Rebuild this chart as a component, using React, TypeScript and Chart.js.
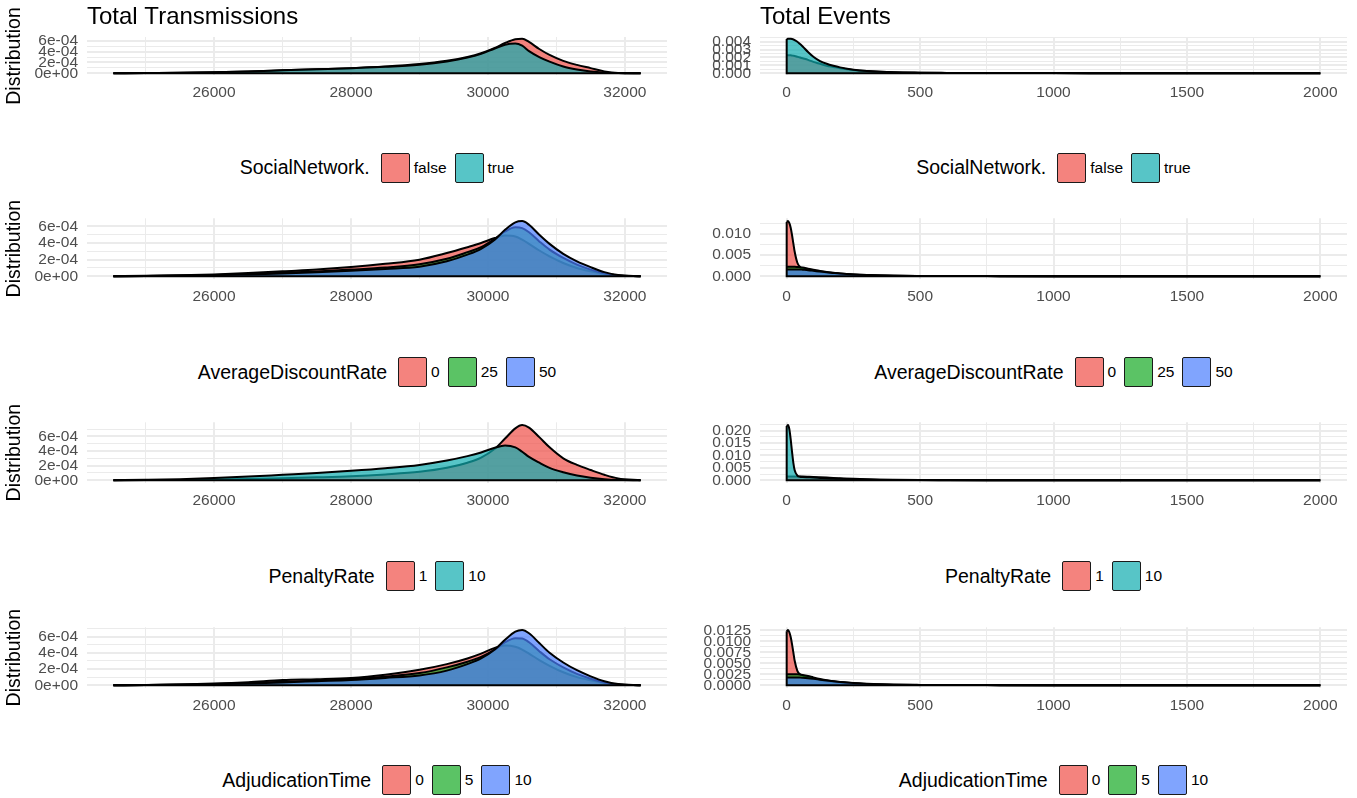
import React, { useEffect, useRef } from 'react';
import { Chart, registerables } from 'chart.js';

Chart.register(...registerables);

const FONT = '"Liberation Sans", Arial, Helvetica, sans-serif';

// ---------- x positions of the density curves ----------
const TX_X = [24530, 25000, 25500, 26000, 26500, 27000, 27500, 28000, 28500, 29000, 29400, 29700, 29900, 30100, 30250, 30400, 30500, 30600, 30750, 30900, 31100, 31300, 31500, 31700, 31900, 32230];
const EV_X = [0, 5, 10, 15, 20, 25, 30, 40, 50, 60, 80, 100, 125, 150, 175, 200, 250, 300, 350, 400, 500, 600, 800, 1000, 1250, 1500, 1750, 2000];

const TX_UNIT = 1e-4; // Total Transmissions densities are given in units of 1e-4
const EV_UNIT = 1e-3; // Total Events densities are given in units of 1e-3

// ---------- Total Transmissions densities (x 1e-4) ----------
const TX_SOCIAL_FALSE = [0, 0.05, 0.1, 0.2, 0.35, 0.55, 0.75, 0.95, 1.25, 1.7, 2.3, 3.0, 3.7, 4.7, 5.6, 6.3, 6.4, 5.8, 4.5, 3.4, 2.3, 1.55, 0.95, 0.35, 0.05, 0];
const TX_SOCIAL_TRUE = [0, 0.05, 0.1, 0.2, 0.35, 0.55, 0.75, 0.95, 1.2, 1.6, 2.2, 2.9, 3.6, 4.6, 5.3, 5.5, 5.1, 4.1, 3.0, 2.15, 1.25, 0.7, 0.33, 0.12, 0.03, 0];

const TX_DISC_0 = [0, 0.05, 0.12, 0.22, 0.38, 0.6, 0.8, 1.1, 1.5, 2.0, 2.8, 3.5, 4.0, 4.6, 4.9, 4.8, 4.4, 3.9, 3.1, 2.4, 1.6, 1.0, 0.6, 0.28, 0.08, 0];
const TX_DISC_25 = [0, 0.03, 0.08, 0.15, 0.28, 0.42, 0.58, 0.8, 1.05, 1.45, 2.1, 2.9, 3.5, 4.5, 5.4, 5.9, 5.8, 5.3, 4.2, 3.2, 2.2, 1.4, 0.8, 0.35, 0.1, 0];
const TX_DISC_50 = [0, 0.02, 0.06, 0.12, 0.22, 0.33, 0.48, 0.65, 0.88, 1.15, 1.8, 2.6, 3.3, 4.4, 5.6, 6.5, 6.65, 6.2, 5.0, 3.9, 2.7, 1.8, 1.1, 0.5, 0.15, 0];

const TX_PEN_1 = [0, 0.02, 0.05, 0.1, 0.18, 0.28, 0.4, 0.55, 0.8, 1.15, 1.7, 2.4, 3.1, 4.3, 5.7, 7.1, 7.55, 7.2, 5.9, 4.5, 3.0, 2.1, 1.4, 0.75, 0.25, 0];
const TX_PEN_10 = [0, 0.06, 0.15, 0.3, 0.5, 0.75, 1.0, 1.3, 1.65, 2.1, 2.7, 3.3, 3.8, 4.45, 4.75, 4.5, 3.9, 3.2, 2.4, 1.7, 1.1, 0.65, 0.35, 0.15, 0.05, 0];

const TX_ADJ_0 = [0, 0.04, 0.1, 0.2, 0.38, 0.65, 0.75, 0.9, 1.3, 1.9, 2.6, 3.3, 3.9, 4.6, 4.9, 4.75, 4.4, 3.9, 3.1, 2.4, 1.6, 1.0, 0.6, 0.28, 0.08, 0];
const TX_ADJ_5 = [0, 0.03, 0.08, 0.15, 0.28, 0.42, 0.55, 0.75, 1.05, 1.5, 2.2, 2.9, 3.5, 4.4, 5.3, 5.8, 5.75, 5.3, 4.2, 3.2, 2.2, 1.4, 0.8, 0.35, 0.1, 0];
const TX_ADJ_10 = [0, 0.02, 0.06, 0.12, 0.22, 0.35, 0.5, 0.65, 0.9, 1.2, 1.8, 2.6, 3.3, 4.4, 5.6, 6.6, 6.8, 6.4, 5.2, 4.0, 2.8, 1.85, 1.1, 0.5, 0.15, 0];

// ---------- Total Events densities (x 1e-3) ----------
const EV_SOCIAL_FALSE = [2.3, 2.3, 2.3, 2.28, 2.25, 2.22, 2.2, 2.1, 2.0, 1.9, 1.7, 1.45, 1.2, 0.95, 0.8, 0.65, 0.42, 0.28, 0.19, 0.13, 0.08, 0.05, 0.03, 0.02, 0.015, 0.01, 0.006, 0.004];
const EV_SOCIAL_TRUE = [4.35, 4.37, 4.38, 4.37, 4.35, 4.3, 4.2, 4.0, 3.7, 3.4, 2.7, 2.1, 1.55, 1.2, 0.95, 0.75, 0.45, 0.28, 0.18, 0.12, 0.07, 0.05, 0.03, 0.02, 0.015, 0.01, 0.006, 0.004];

const EV_DISC_0 = [12.9, 13.1, 12.6, 11.5, 9.8, 7.8, 5.8, 3.2, 2.2, 1.9, 1.6, 1.3, 1.05, 0.85, 0.7, 0.55, 0.35, 0.22, 0.15, 0.1, 0.06, 0.04, 0.025, 0.015, 0.01, 0.007, 0.005, 0.003];
const EV_DISC_25 = [2.25, 2.25, 2.25, 2.25, 2.25, 2.25, 2.25, 2.2, 2.15, 2.05, 1.8, 1.55, 1.25, 1.0, 0.82, 0.65, 0.42, 0.27, 0.17, 0.11, 0.06, 0.04, 0.025, 0.015, 0.01, 0.007, 0.005, 0.003];
const EV_DISC_50 = [1.6, 1.6, 1.6, 1.6, 1.6, 1.6, 1.6, 1.6, 1.6, 1.55, 1.45, 1.3, 1.1, 0.92, 0.77, 0.63, 0.42, 0.28, 0.18, 0.12, 0.07, 0.045, 0.028, 0.017, 0.011, 0.008, 0.005, 0.003];

const EV_PEN_1 = [1.5, 1.5, 1.5, 1.5, 1.5, 1.5, 1.5, 1.5, 1.5, 1.48, 1.42, 1.35, 1.22, 1.08, 0.93, 0.8, 0.55, 0.36, 0.23, 0.15, 0.08, 0.05, 0.03, 0.018, 0.012, 0.008, 0.005, 0.003];
const EV_PEN_10 = [21.8, 22.2, 20.5, 16.5, 11.5, 7.0, 4.0, 1.9, 1.4, 1.3, 1.2, 1.1, 0.95, 0.8, 0.68, 0.56, 0.38, 0.25, 0.16, 0.1, 0.06, 0.04, 0.025, 0.015, 0.01, 0.007, 0.005, 0.003];

const EV_ADJ_0 = [12.3, 12.6, 12.1, 11.0, 9.4, 7.5, 5.6, 3.3, 2.5, 2.2, 1.8, 1.45, 1.15, 0.92, 0.75, 0.6, 0.38, 0.24, 0.16, 0.1, 0.06, 0.04, 0.025, 0.015, 0.01, 0.007, 0.005, 0.003];
const EV_ADJ_5 = [2.5, 2.5, 2.5, 2.5, 2.5, 2.5, 2.5, 2.5, 2.45, 2.35, 2.1, 1.8, 1.45, 1.15, 0.92, 0.72, 0.45, 0.28, 0.18, 0.11, 0.06, 0.04, 0.025, 0.015, 0.01, 0.007, 0.005, 0.003];
const EV_ADJ_10 = [1.75, 1.75, 1.75, 1.75, 1.75, 1.75, 1.75, 1.75, 1.75, 1.72, 1.62, 1.48, 1.28, 1.08, 0.9, 0.74, 0.5, 0.33, 0.21, 0.14, 0.08, 0.05, 0.03, 0.018, 0.012, 0.008, 0.005, 0.003];

// ---------- ticks ----------
const TX_X_TICKS = [26000, 28000, 30000, 32000];
const TX_X_LABELS = ['26000', '28000', '30000', '32000'];
const EV_X_TICKS = [0, 500, 1000, 1500, 2000];
const EV_X_LABELS = ['0', '500', '1000', '1500', '2000'];

const TX_Y_TICKS = [0, 0.0002, 0.0004, 0.0006];
const TX_Y_LABELS = ['0e+00', '2e-04', '4e-04', '6e-04'];
const EV1_Y_TICKS = [0, 0.001, 0.002, 0.003, 0.004];
const EV1_Y_LABELS = ['0.000', '0.001', '0.002', '0.003', '0.004'];
const EV2_Y_TICKS = [0, 0.005, 0.01];
const EV2_Y_LABELS = ['0.000', '0.005', '0.010'];
const EV3_Y_TICKS = [0, 0.005, 0.01, 0.015, 0.02];
const EV3_Y_LABELS = ['0.000', '0.005', '0.010', '0.015', '0.020'];
const EV4_Y_TICKS = [0, 0.0025, 0.005, 0.0075, 0.01, 0.0125];
const EV4_Y_LABELS = ['0.0000', '0.0025', '0.0050', '0.0075', '0.0100', '0.0125'];

// ---------- legends ----------
const SOCIAL_NAME = 'SocialNetwork.';
const SOCIAL_LEVELS = ['false', 'true'];
const DISC_NAME = 'AverageDiscountRate';
const DISC_LEVELS = ['0', '25', '50'];
const PEN_NAME = 'PenaltyRate';
const PEN_LEVELS = ['1', '10'];
const ADJ_NAME = 'AdjudicationTime';
const ADJ_LEVELS = ['0', '5', '10'];

const HUE2 = ['239,79,71', '15,172,175'];
const HUE3 = ['239,79,71', '21,169,35', '74,126,254'];
const ALPHA = 0.7;

// ---------- layout (pixels) ----------
const COLS = [
  { canvasLeft: 0, canvasWidth: 680, plotLeft: 87, plotRight: 667 },
  { canvasLeft: 680, canvasWidth: 677, plotLeft: 760, plotRight: 1347 },
];
const ROWS = [
  { top: 37, bottom: 74.5 },
  { top: 212, bottom: 279 },
  { top: 416, bottom: 483 },
  { top: 620.5, bottom: 687 },
];
const X_AXIS_H = 34;

type PanelSpec = {
  row: number;
  col: number;
  title?: string;
  yTitle?: string;
  xs: number[];
  unit: number;
  series: number[][];
  levels: string[];
  legendName: string;
  xTicks: number[];
  xLabels: string[];
  yTicks: number[];
  yLabels: string[];
  events: boolean;
};

const PANELS: PanelSpec[] = [
  { row: 0, col: 0, title: 'Total Transmissions', yTitle: 'Distribution', xs: TX_X, unit: TX_UNIT, series: [TX_SOCIAL_FALSE, TX_SOCIAL_TRUE], levels: SOCIAL_LEVELS, legendName: SOCIAL_NAME, xTicks: TX_X_TICKS, xLabels: TX_X_LABELS, yTicks: TX_Y_TICKS, yLabels: TX_Y_LABELS, events: false },
  { row: 0, col: 1, title: 'Total Events', xs: EV_X, unit: EV_UNIT, series: [EV_SOCIAL_FALSE, EV_SOCIAL_TRUE], levels: SOCIAL_LEVELS, legendName: SOCIAL_NAME, xTicks: EV_X_TICKS, xLabels: EV_X_LABELS, yTicks: EV1_Y_TICKS, yLabels: EV1_Y_LABELS, events: true },
  { row: 1, col: 0, yTitle: 'Distribution', xs: TX_X, unit: TX_UNIT, series: [TX_DISC_0, TX_DISC_25, TX_DISC_50], levels: DISC_LEVELS, legendName: DISC_NAME, xTicks: TX_X_TICKS, xLabels: TX_X_LABELS, yTicks: TX_Y_TICKS, yLabels: TX_Y_LABELS, events: false },
  { row: 1, col: 1, xs: EV_X, unit: EV_UNIT, series: [EV_DISC_0, EV_DISC_25, EV_DISC_50], levels: DISC_LEVELS, legendName: DISC_NAME, xTicks: EV_X_TICKS, xLabels: EV_X_LABELS, yTicks: EV2_Y_TICKS, yLabels: EV2_Y_LABELS, events: true },
  { row: 2, col: 0, yTitle: 'Distribution', xs: TX_X, unit: TX_UNIT, series: [TX_PEN_1, TX_PEN_10], levels: PEN_LEVELS, legendName: PEN_NAME, xTicks: TX_X_TICKS, xLabels: TX_X_LABELS, yTicks: TX_Y_TICKS, yLabels: TX_Y_LABELS, events: false },
  { row: 2, col: 1, xs: EV_X, unit: EV_UNIT, series: [EV_PEN_1, EV_PEN_10], levels: PEN_LEVELS, legendName: PEN_NAME, xTicks: EV_X_TICKS, xLabels: EV_X_LABELS, yTicks: EV3_Y_TICKS, yLabels: EV3_Y_LABELS, events: true },
  { row: 3, col: 0, yTitle: 'Distribution', xs: TX_X, unit: TX_UNIT, series: [TX_ADJ_0, TX_ADJ_5, TX_ADJ_10], levels: ADJ_LEVELS, legendName: ADJ_NAME, xTicks: TX_X_TICKS, xLabels: TX_X_LABELS, yTicks: TX_Y_TICKS, yLabels: TX_Y_LABELS, events: false },
  { row: 3, col: 1, xs: EV_X, unit: EV_UNIT, series: [EV_ADJ_0, EV_ADJ_5, EV_ADJ_10], levels: ADJ_LEVELS, legendName: ADJ_NAME, xTicks: EV_X_TICKS, xLabels: EV_X_LABELS, yTicks: EV4_Y_TICKS, yLabels: EV4_Y_LABELS, events: true },
];

function huesFor(n: number) {
  return n === 2 ? HUE2 : HUE3;
}

function withMinor(majors: number[], min: number, max: number) {
  const step = majors[1] - majors[0];
  const minors = [majors[0] - step / 2, ...majors.map((m) => m + step / 2)];
  return [...majors, ...minors].filter((v) => v >= min && v <= max).sort((a, b) => a - b);
}

function isMajor(majors: number[], v: number) {
  return majors.some((m) => Math.abs(m - v) <= 1e-9 * Math.max(1, Math.abs(m)));
}

function labelFor(majors: number[], labels: string[], v: number) {
  const i = majors.findIndex((m) => Math.abs(m - v) <= 1e-9 * Math.max(1, Math.abs(m)));
  return i >= 0 ? labels[i] : '';
}

function Panel({ spec }: { spec: PanelSpec }) {
  const ref = useRef<HTMLCanvasElement | null>(null);
  const col = COLS[spec.col];
  const row = ROWS[spec.row];
  const canvasTop = spec.title ? 0 : row.top - 12;
  const canvasH = Math.round(row.bottom - canvasTop + X_AXIS_H);

  useEffect(() => {
    if (!ref.current) return;
    const xs = spec.xs;
    const x0 = xs[0];
    const x1 = xs[xs.length - 1];
    const xr = x1 - x0;
    const xmin = x0 - 0.05 * xr;
    const xmax = x1 + 0.05 * xr;
    let peak = 0;
    spec.series.forEach((s) => s.forEach((v) => { if (v * spec.unit > peak) peak = v * spec.unit; }));
    const ymin = -0.05 * peak;
    const ymax = 1.05 * peak;

    const hues = huesFor(spec.series.length);
    const n = spec.series.length;
    const datasets: any[] = spec.series.map((vals, i) => ({
      label: spec.levels[i],
      data: xs.map((x, j) => ({ x, y: vals[j] * spec.unit })),
      fill: 'origin',
      backgroundColor: `rgba(${hues[i]},${ALPHA})`,
      borderColor: '#000',
      borderWidth: 2,
      pointRadius: 0,
      cubicInterpolationMode: 'monotone',
      order: n - i,
    }));
    // polygon outline: baseline (and the left vertical edge for bounded event densities)
    let firstMax = 0;
    spec.series.forEach((s) => { if (s[0] * spec.unit > firstMax) firstMax = s[0] * spec.unit; });
    const outline = spec.events
      ? [{ x: x0, y: firstMax }, { x: x0, y: 0 }, { x: x1, y: 0 }]
      : [{ x: x0, y: 0 }, { x: x1, y: 0 }];
    datasets.push({
      label: 'outline',
      data: outline,
      fill: false,
      borderColor: '#000',
      borderWidth: 2,
      pointRadius: 0,
      tension: 0,
      order: 0,
    });

    const xAll = withMinor(spec.xTicks, xmin, xmax);
    const yAll = withMinor(spec.yTicks, ymin, ymax);
    const gridWidth = (majors: number[]) => (ctx: any) =>
      ctx && ctx.tick && isMajor(majors, ctx.tick.value) ? 2 : 1;

    const chart = new Chart(ref.current, {
      type: 'line',
      data: { datasets },
      options: {
        animation: false,
        responsive: false,
        events: [],
        layout: {
          padding: {
            top: spec.title ? 3 : row.top - canvasTop,
            right: col.canvasWidth - (col.plotRight - col.canvasLeft),
            left: 0,
            bottom: 0,
          },
        },
        plugins: {
          legend: { display: false },
          tooltip: { enabled: false },
          title: {
            display: !!spec.title,
            text: spec.title || '',
            align: 'start',
            fullSize: false,
            color: '#000',
            font: { family: FONT, size: 24, weight: 'normal', lineHeight: 1.2 },
            padding: { top: 0, bottom: 5.2 },
          },
        },
        scales: {
          x: {
            type: 'linear',
            min: xmin,
            max: xmax,
            afterBuildTicks: (s: any) => { s.ticks = xAll.map((v) => ({ value: v })); },
            afterFit: (s: any) => { s.height = X_AXIS_H; },
            ticks: {
              autoSkip: false,
              maxRotation: 0,
              padding: 8,
              color: '#4D4D4D',
              font: { family: FONT, size: 15.5 },
              callback: (v: any) => labelFor(spec.xTicks, spec.xLabels, Number(v)),
            },
            grid: { drawTicks: false, color: '#EBEBEB', lineWidth: gridWidth(spec.xTicks) },
            border: { display: false },
          },
          y: {
            type: 'linear',
            min: ymin,
            max: ymax,
            afterBuildTicks: (s: any) => { s.ticks = yAll.map((v) => ({ value: v })); },
            afterFit: (s: any) => { s.width = col.plotLeft - col.canvasLeft; },
            ticks: {
              autoSkip: false,
              padding: 9,
              color: '#4D4D4D',
              font: { family: FONT, size: 15.5 },
              callback: (v: any) => labelFor(spec.yTicks, spec.yLabels, Number(v)),
            },
            title: {
              display: !!spec.yTitle,
              text: spec.yTitle || '',
              color: '#000',
              font: { family: FONT, size: 19.5 },
              padding: { top: 3, bottom: 0 },
            },
            grid: { drawTicks: false, color: '#EBEBEB', lineWidth: gridWidth(spec.yTicks) },
            border: { display: false },
          },
        },
      } as any,
    });
    return () => chart.destroy();
  }, [spec]);

  const hues = huesFor(spec.series.length);
  const legendMid = row.bottom + 93;

  return (
    <>
      <canvas
        ref={ref}
        width={col.canvasWidth}
        height={canvasH}
        style={{ position: 'absolute', left: col.canvasLeft, top: canvasTop, width: col.canvasWidth, height: canvasH }}
      />
      <div
        style={{
          position: 'absolute',
          left: col.plotLeft,
          width: col.plotRight - col.plotLeft,
          top: legendMid - 16,
          height: 32,
          display: 'flex',
          justifyContent: 'center',
          alignItems: 'center',
          fontFamily: FONT,
          color: '#000',
        }}
      >
        <span style={{ fontSize: 19.5, marginRight: 11 }}>{spec.legendName}</span>
        {spec.levels.map((lv, i) => (
          <React.Fragment key={lv}>
            <span
              style={{
                display: 'inline-block',
                boxSizing: 'border-box',
                width: 29,
                height: 30,
                border: '1.5px solid #1a1a1a',
                borderRadius: 2,
                background: `rgba(${hues[i]},${ALPHA})`,
                marginLeft: i === 0 ? 0 : 8,
              }}
            />
            <span style={{ fontSize: 15.5, marginLeft: 4 }}>{lv}</span>
          </React.Fragment>
        ))}
      </div>
    </>
  );
}

export default function App() {
  return (
    <div
      style={{
        position: 'absolute',
        left: 0,
        top: 0,
        width: 1357,
        height: 798,
        background: '#fff',
        overflow: 'hidden',
        fontFamily: FONT,
      }}
    >
      {PANELS.map((p, i) => (
        <Panel key={i} spec={p} />
      ))}
    </div>
  );
}
